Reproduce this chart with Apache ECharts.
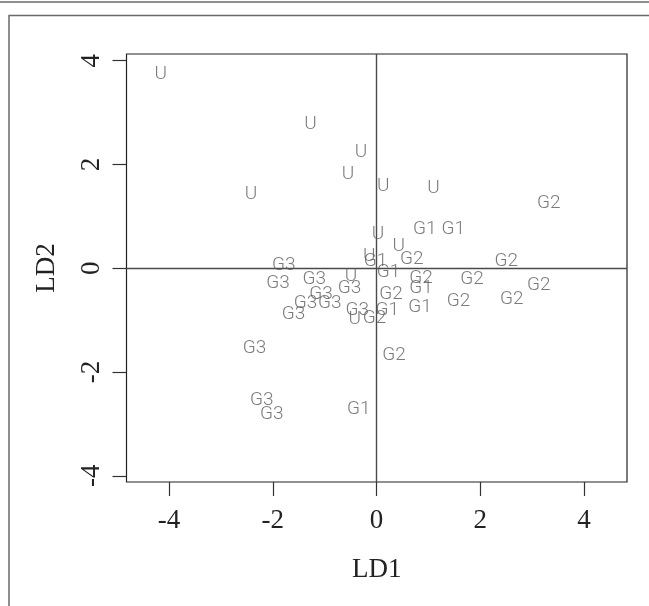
<!DOCTYPE html>
<html>
<head>
<meta charset="utf-8">
<script src="https://cdn.jsdelivr.net/npm/echarts@6/dist/echarts.min.js"></script>
<style>html,body{margin:0;padding:0;background:#fff;}#c{width:649px;height:606px;}</style>
</head>
<body>
<div id="c"></div>
<script>
// group labels
const groups = ['U', 'G1', 'G2', 'G3'];
// LD1 / LD2 scores per group
const uLD1 = [-4.16, -1.27, -0.30, -0.55, -2.42, 0.13, 1.10, 0.03, 0.43, -0.14, -0.49, -0.42];
const uLD2 = [3.74, 2.77, 2.23, 1.82, 1.42, 1.59, 1.55, 0.66, 0.42, 0.24, -0.16, -0.99];
const g1LD1 = [0.93, 1.48, -0.02, 0.23, 0.86, 0.84, 0.21, -0.34];
const g1LD2 = [0.76, 0.76, 0.13, -0.08, -0.39, -0.76, -0.80, -2.71];
const g2LD1 = [3.32, 0.68, 2.50, 1.84, 3.13, 1.58, 2.61, 0.28, 0.86, -0.04, 0.34];
const g2LD2 = [1.25, 0.18, 0.13, -0.21, -0.32, -0.63, -0.59, -0.50, -0.20, -0.96, -1.67];
const g3LD1 = [-1.79, -1.90, -1.20, -0.52, -1.07, -1.37, -0.90, -1.60, -0.37, -2.35, -2.21, -2.02];
const g3LD2 = [0.05, -0.28, -0.22, -0.39, -0.51, -0.68, -0.68, -0.89, -0.81, -1.55, -2.55, -2.81];
const xTicks = [-4, -2, 0, 2, 4];
const yTicks = [-4, -2, 0, 2, 4];

const xs = [uLD1, g1LD1, g2LD1, g3LD1];
const ys = [uLD2, g1LD2, g2LD2, g3LD2];

const serif = '"Liberation Serif", "DejaVu Serif", serif';
const sans = 'Roboto, "Liberation Sans", sans-serif';

const series = groups.map((g, gi) => ({
  type: 'scatter',
  name: g,
  symbolSize: 1,
  itemStyle: { color: 'rgba(0,0,0,0)' },
  data: xs[gi].map((x, i) => [x, ys[gi][i]]),
  label: {
    show: true,
    position: 'inside',
    formatter: g,
    color: '#5a5a5a',
    fontFamily: sans,
    fontWeight: 300,
    fontSize: 19
  },
  emphasis: { disabled: true },
  silent: true,
  z: 3
}));
series[0].markLine = {
  silent: true,
  symbol: 'none',
  label: { show: false },
  lineStyle: { color: '#4a4a4a', width: 1.4, type: 'solid' },
  data: [{ xAxis: 0 }, { yAxis: 0 }],
  z: 2
};

const chart = echarts.init(document.getElementById('c'), null, { renderer: 'canvas' });
chart.setOption({
  animation: false,
  backgroundColor: '#fff',
  grid: {
    left: 126.5, right: 22, top: 54, bottom: 124,
    show: true, borderColor: '#222', borderWidth: 1.2, backgroundColor: 'transparent'
  },
  xAxis: {
    type: 'value', min: -4.82, max: 4.83,
    splitLine: { show: false },
    axisLine: { show: false, onZero: false },
    axisTick: { show: true, inside: false, length: 14, customValues: xTicks, lineStyle: { color: '#333', width: 1.2 } },
    axisLabel: { customValues: xTicks, margin: 25, color: '#222', fontFamily: serif, fontSize: 27 },
    name: 'LD1', nameLocation: 'middle', nameGap: 74,
    nameTextStyle: { color: '#222', fontFamily: serif, fontSize: 27 }
  },
  yAxis: {
    type: 'value', min: -4.12, max: 4.13,
    splitLine: { show: false },
    axisLine: { show: false, onZero: false },
    axisTick: { show: true, inside: false, length: 14, customValues: yTicks, lineStyle: { color: '#333', width: 1.2 } },
    axisLabel: { customValues: yTicks, rotate: 90, margin: 21, color: '#222', fontFamily: serif, fontSize: 27 },
    name: 'LD2', nameLocation: 'middle', nameGap: 66, nameRotate: 90,
    nameTextStyle: { color: '#222', fontFamily: serif, fontSize: 27 }
  },
  graphic: [
    { type: 'line', shape: { x1: 0, y1: 2, x2: 649, y2: 2 }, style: { stroke: '#6a6a6a', lineWidth: 1.5 }, silent: true },
    { type: 'polyline', shape: { points: [[9, 606], [9, 15.5], [649, 15.5]] }, style: { stroke: '#6a6a6a', lineWidth: 1.5, fill: null }, silent: true }
  ],
  series: series
});
</script>
</body>
</html>
